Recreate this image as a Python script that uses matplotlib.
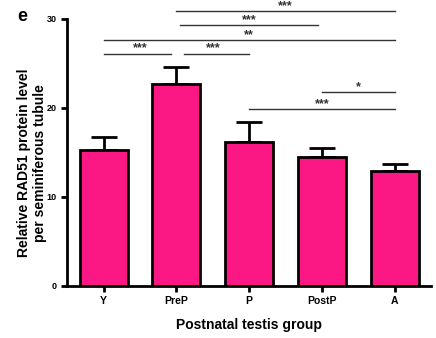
import numpy as np
import matplotlib
matplotlib.use("Agg")
import matplotlib.pyplot as plt

plt.rcParams['font.family'] = ['Liberation Sans', 'DejaVu Sans']
plt.rcParams['font.weight'] = 'bold'

# data
groups = ['Y', 'PreP', 'P', 'PostP', 'A']
means = [15.3, 22.7, 16.2, 14.5, 12.9]
sem = [1.4, 1.9, 2.2, 1.0, 0.8]

# significance brackets
sig_from = [1, 1, 0, 0, 1, 3, 2]
sig_to = [4, 3, 4, 1, 2, 4, 4]
sig_y = [30.9, 29.3, 27.6, 26.1, 26.1, 21.8, 19.9]
sig_label = ['***', '***', '**', '***', '***', '*', '***']
sig_trim = [(0, 0), (0.05, 0.05), (0, 0), (0, 0.07), (0.1, 0), (0, 0), (0, 0)]

bar_color = '#FC1884'

fig = plt.figure(figsize=(4.36, 3.38), dpi=100)
ax = fig.add_axes([0.154, 0.154, 0.835, 0.79])

x = np.arange(len(groups))
ax.bar(x, means, width=0.66, color=bar_color, edgecolor='black', linewidth=2, zorder=2)
ax.errorbar(x, means, yerr=[np.zeros(len(sem)), sem], fmt='none', ecolor='black',
            elinewidth=2, capsize=9.5, capthick=2, zorder=1)

for a, b, h, lab, (tl, tr) in zip(sig_from, sig_to, sig_y, sig_label, sig_trim):
    ax.plot([a + tl, b - tr], [h, h], color='#333333', lw=1, clip_on=False)
    ax.text((a + b) / 2, h - 0.1, lab, ha='center', va='bottom', fontsize=9,
            color='#333333', clip_on=False)

ax.set_xlim(-0.5, 4.5)
ax.set_ylim(0, 30)
ax.set_yticks([0, 10, 20, 30])
ax.set_xticks(x)
ax.set_xticklabels(groups)
ax.tick_params(axis='both', labelsize=6.5, width=2, length=4, direction='out')
ax.tick_params(axis='x', labelsize=7.5, pad=3)
for side in ['top', 'right']:
    ax.spines[side].set_visible(False)
for side in ['left', 'bottom']:
    ax.spines[side].set_linewidth(2)

ax.set_ylabel('Relative RAD51 protein level\nper seminiferous tubule', fontsize=10,
              fontweight='bold')
ax.yaxis.set_label_coords(-0.055, 0.46)
ax.set_xlabel('Postnatal testis group', fontsize=10, fontweight='bold', labelpad=9)

fig.text(0.04, 0.95, 'e', fontsize=13, fontweight='bold', ha='left', va='center')

fig.savefig('out.png', dpi=100)
